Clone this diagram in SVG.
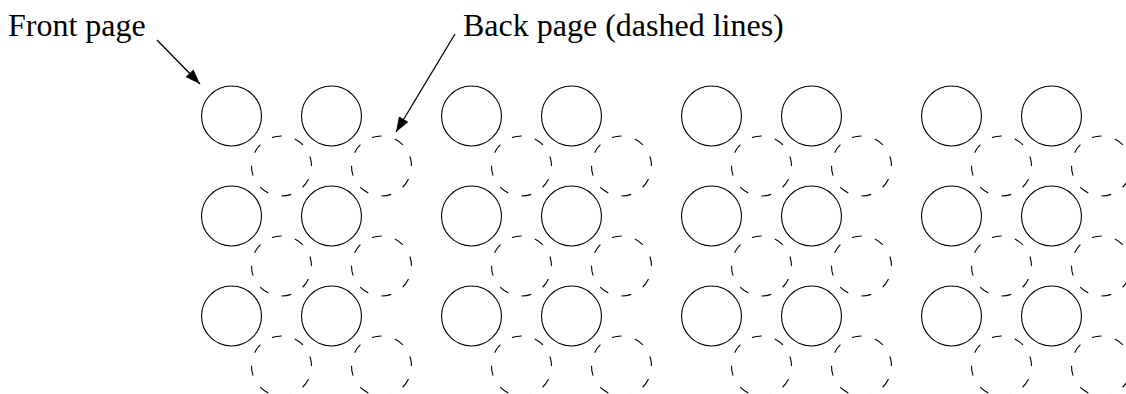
<svg xmlns="http://www.w3.org/2000/svg" width="1126" height="394" viewBox="0 0 1126 394">
<style>
.f{fill:none;stroke:#000;stroke-width:1.1}
.b{fill:none;stroke:#000;stroke-width:1.1;stroke-dasharray:10 13.56;stroke-dashoffset:10}
.t{font-family:"Liberation Serif","Times New Roman",serif;font-size:32px;fill:#000}
.a{stroke:#000;stroke-width:1.3;fill:none;marker-end:url(#ah)}
</style>
<defs>
<marker id="ah" markerUnits="userSpaceOnUse" markerWidth="16" markerHeight="12" refX="15" refY="5.5" orient="auto"><path d="M0,0 L15,5.5 L0,11 z" fill="#000"/></marker>
<circle id="fc" r="30" class="f"/>
<path id="bc" d="M30,0 A30,30 0 1 1 -30,0 A30,30 0 1 1 30,0" class="b"/>
</defs>
<g id="labels">
<text id="front-label" class="t" x="8" y="36">Front page</text>
<text id="back-label" class="t" x="463" y="36">Back page (dashed lines)</text>
</g>
<g id="connectors">
<line class="a" x1="157" y1="40" x2="200" y2="84"/>
<line class="a" x1="455" y1="34" x2="396" y2="132"/>
</g>
<g id="sheet1" transform="translate(231.5,116)">
<g id="s1-front"><use href="#fc" x="0" y="0"/><use href="#fc" x="100" y="0"/><use href="#fc" x="0" y="100"/><use href="#fc" x="100" y="100"/><use href="#fc" x="0" y="200"/><use href="#fc" x="100" y="200"/></g>
<g id="s1-back"><use href="#bc" x="50" y="50"/><use href="#bc" x="150" y="50"/><use href="#bc" x="50" y="150"/><use href="#bc" x="150" y="150"/><use href="#bc" x="50" y="250"/><use href="#bc" x="150" y="250"/></g>
</g>
<g id="sheet2" transform="translate(471.5,116)">
<g id="s2-front"><use href="#fc" x="0" y="0"/><use href="#fc" x="100" y="0"/><use href="#fc" x="0" y="100"/><use href="#fc" x="100" y="100"/><use href="#fc" x="0" y="200"/><use href="#fc" x="100" y="200"/></g>
<g id="s2-back"><use href="#bc" x="50" y="50"/><use href="#bc" x="150" y="50"/><use href="#bc" x="50" y="150"/><use href="#bc" x="150" y="150"/><use href="#bc" x="50" y="250"/><use href="#bc" x="150" y="250"/></g>
</g>
<g id="sheet3" transform="translate(711.5,116)">
<g id="s3-front"><use href="#fc" x="0" y="0"/><use href="#fc" x="100" y="0"/><use href="#fc" x="0" y="100"/><use href="#fc" x="100" y="100"/><use href="#fc" x="0" y="200"/><use href="#fc" x="100" y="200"/></g>
<g id="s3-back"><use href="#bc" x="50" y="50"/><use href="#bc" x="150" y="50"/><use href="#bc" x="50" y="150"/><use href="#bc" x="150" y="150"/><use href="#bc" x="50" y="250"/><use href="#bc" x="150" y="250"/></g>
</g>
<g id="sheet4" transform="translate(951.5,116)">
<g id="s4-front"><use href="#fc" x="0" y="0"/><use href="#fc" x="100" y="0"/><use href="#fc" x="0" y="100"/><use href="#fc" x="100" y="100"/><use href="#fc" x="0" y="200"/><use href="#fc" x="100" y="200"/></g>
<g id="s4-back"><use href="#bc" x="50" y="50"/><use href="#bc" x="150" y="50"/><use href="#bc" x="50" y="150"/><use href="#bc" x="150" y="150"/><use href="#bc" x="50" y="250"/><use href="#bc" x="150" y="250"/></g>
</g>
</svg>
